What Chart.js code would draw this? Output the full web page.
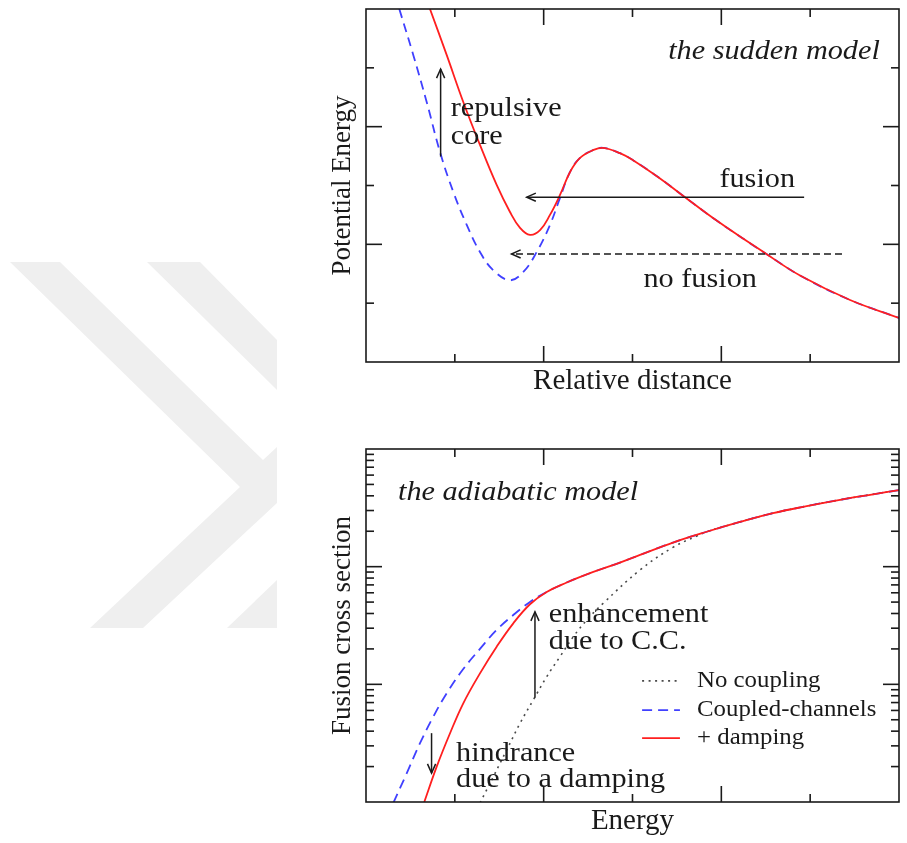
<!DOCTYPE html>
<html>
<head>
<meta charset="utf-8">
<script src="https://cdn.jsdelivr.net/npm/chart.js@4.4.0/dist/chart.umd.min.js"></script>
<style>
  html, body { margin: 0; padding: 0; background: #fff; }
  body { width: 907px; height: 843px; position: relative; overflow: hidden; }
  #mark { position: absolute; left: 0; top: 0; }
  canvas { position: absolute; left: 0; }
  #top { top: 0; }
  #bottom { top: 420px; }
</style>
</head>
<body>
<svg id="mark" width="907" height="843">
  <g fill="#efefef">
    <polygon points="10,262 60,262 263,460 277,447 277,503 143,628 90,628 240,487"/>
    <polygon points="147,262 200,262 277,340 277,390"/>
    <polygon points="227,628 277,580 277,628"/>
  </g>
</svg>
<canvas id="top" width="907" height="420"></canvas>
<canvas id="bottom" width="907" height="423"></canvas>
<script>
// sudden model: potential with / without repulsive core
const potCoreX = [0.720, 0.908, 1.095, 1.283, 1.471, 1.621, 1.734, 1.846, 1.959, 2.071, 2.184, 2.297, 2.409, 2.555, 2.668, 2.859, 3.006, 3.310, 3.557, 3.951, 4.503, 4.886, 5.449, 6.0];
const potCoreY = [6.0, 5.22, 4.42, 3.69, 3.01, 2.55, 2.28, 2.16, 2.24, 2.50, 2.84, 3.23, 3.47, 3.60, 3.64, 3.55, 3.43, 3.12, 2.84, 2.40, 1.84, 1.47, 1.054, 0.75];
const potBareX = [0.375, 0.532, 0.683, 0.833, 0.983, 1.134, 1.283, 1.433, 1.621, 1.771, 1.922, 2.071, 2.184, 2.297, 2.409, 2.555, 2.668, 2.859, 3.006, 3.310, 3.557, 3.951, 4.503, 4.886, 5.449, 6.0];
const potBareY = [6.0, 5.22, 4.42, 3.57, 2.89, 2.33, 1.87, 1.56, 1.39, 1.53, 1.87, 2.33, 2.79, 3.23, 3.47, 3.60, 3.64, 3.55, 3.43, 3.12, 2.84, 2.40, 1.84, 1.47, 1.054, 0.75];

// adiabatic model: fusion cross sections
const noCoupE = [1.283, 1.433, 1.584, 1.734, 1.883, 2.034, 2.184, 2.334, 2.485, 2.671, 3.085, 3.456, 3.723, 3.835, 4.210, 4.582, 4.961, 5.336, 5.708, 6.0];
const noCoupSigma = [0.0098, 0.0164, 0.0277, 0.0467, 0.0736, 0.116, 0.172, 0.254, 0.352, 0.489, 0.938, 1.46, 1.82, 1.98, 2.40, 2.85, 3.27, 3.70, 4.12, 4.47];
const ccE = [0.307, 0.458, 0.608, 0.758, 0.908, 1.095, 1.283, 1.471, 1.658, 1.846, 2.034, 2.259, 2.559, 2.859, 3.085, 3.456, 3.835, 4.210, 4.582, 4.961, 5.336, 5.708, 6.0];
const ccSigma = [0.0098, 0.0175, 0.0316, 0.0531, 0.0839, 0.135, 0.200, 0.290, 0.388, 0.501, 0.610, 0.733, 0.902, 1.084, 1.259, 1.603, 1.98, 2.40, 2.85, 3.27, 3.70, 4.12, 4.47];
const dampE = [0.656, 0.796, 0.946, 1.095, 1.283, 1.471, 1.658, 1.846, 2.034, 2.259, 2.559, 2.859, 3.085, 3.456, 3.835, 4.210, 4.582, 4.961, 5.336, 5.708, 6.0];
const dampSigma = [0.0100, 0.0200, 0.0384, 0.0690, 0.124, 0.209, 0.330, 0.479, 0.610, 0.733, 0.902, 1.084, 1.259, 1.603, 1.98, 2.40, 2.85, 3.27, 3.70, 4.12, 4.47];

// tick marks (no labels in the figure)
const linTicks = [1, 2, 3, 4, 5];
const linMajor = [2, 4];
const logMajor = [0.1, 1];
const logDecades = [0.01, 0.1, 1];

const FONT = 'Liberation Serif';
const INK = '#1a1a1a';

const toPoints = (xs, ys) => xs.map((x, i) => ({ x: x, y: ys[i] }));

const logTicks = [];
logDecades.forEach(d => {
  for (let m = 1; m <= 9; m++) {
    if (d * m > logDecades[0]) logTicks.push(d * m);
  }
});

const framePlugin = {
  id: 'frame',
  afterDatasetsDraw(chart, args, opts) {
    const { ctx, chartArea: { left, right, top, bottom }, scales: { x, y } } = chart;
    ctx.save();
    ctx.strokeStyle = INK;
    ctx.lineWidth = 1.6;
    const seg = (x1, y1, x2, y2) => {
      ctx.beginPath(); ctx.moveTo(x1, y1); ctx.lineTo(x2, y2); ctx.stroke();
    };
    opts.xTicks.forEach(v => {
      const px = x.getPixelForValue(v);
      const len = opts.xMajor.includes(v) ? 16 : 8;
      seg(px, bottom, px, bottom - len);
      seg(px, top, px, top + len);
    });
    opts.yTicks.forEach(v => {
      const py = y.getPixelForValue(v);
      const len = opts.yMajor.some(m => Math.abs(m - v) < 1e-9) ? 16 : 8;
      seg(left, py, left + len, py);
      seg(right, py, right - len, py);
    });
    ctx.strokeRect(left, top, right - left, bottom - top);
    ctx.restore();
  }
};

// text slightly widened, like the original figure
const wideText = (ctx, text, x, y, sx) => {
  ctx.save();
  ctx.translate(x, y);
  ctx.scale(sx, 1);
  ctx.fillText(text, 0, 0);
  ctx.restore();
};

// arrows, texts and legend placed as fractions of the chart area
const notesPlugin = {
  id: 'notes',
  afterDatasetsDraw(chart, args, opts) {
    const { ctx, chartArea: { left, top, width, height } } = chart;
    const px = f => left + f * width;
    const py = f => top + f * height;
    ctx.save();
    ctx.strokeStyle = INK;
    ctx.fillStyle = INK;
    (opts.arrows || []).forEach(a => {
      const x1 = px(a.from[0]), y1 = py(a.from[1]);
      const x2 = px(a.to[0]), y2 = py(a.to[1]);
      ctx.lineWidth = 1.5;
      ctx.setLineDash(a.dash || []);
      ctx.beginPath(); ctx.moveTo(x1, y1); ctx.lineTo(x2, y2); ctx.stroke();
      ctx.setLineDash([]);
      const ang = Math.atan2(y2 - y1, x2 - x1);
      ctx.beginPath();
      ctx.moveTo(x2 - 10 * Math.cos(ang - 0.42), y2 - 10 * Math.sin(ang - 0.42));
      ctx.lineTo(x2, y2);
      ctx.lineTo(x2 - 10 * Math.cos(ang + 0.42), y2 - 10 * Math.sin(ang + 0.42));
      ctx.stroke();
    });
    ctx.textBaseline = 'middle';
    (opts.texts || []).forEach(t => {
      ctx.font = (t.italic ? 'italic ' : '') + t.size + 'px "' + FONT + '"';
      ctx.textAlign = t.align || 'left';
      wideText(ctx, t.text, px(t.at[0]), py(t.at[1]), 1.08);
    });
    if (opts.legend) {
      const lg = opts.legend;
      ctx.font = lg.size + 'px "' + FONT + '"';
      ctx.textAlign = 'left';
      lg.rows.forEach((idx, r) => {
        const ds = chart.data.datasets[idx];
        const yy = py(lg.y[r]);
        ctx.strokeStyle = ds.borderColor;
        ctx.lineWidth = ds.borderWidth;
        ctx.setLineDash(ds.borderDash || []);
        ctx.beginPath(); ctx.moveTo(px(lg.x0), yy); ctx.lineTo(px(lg.x1), yy); ctx.stroke();
        ctx.setLineDash([]);
        ctx.fillStyle = INK;
        wideText(ctx, ds.label, px(lg.tx), yy, 1.08);
      });
    }
    ctx.restore();
  }
};

const axisTitle = (text, size) => ({
  display: true, text: text, color: INK, padding: 0,
  font: { family: FONT, size: size }
});

const baseScales = (xTitle, yTitle, yType, yMin, yMax) => ({
  x: {
    type: 'linear', min: 0, max: 6,
    grid: { display: false }, border: { display: false }, ticks: { display: false },
    title: axisTitle(xTitle, 29),
    afterFit: s => { s.height = 37; }
  },
  y: {
    type: yType, min: yMin, max: yMax,
    grid: { display: false }, border: { display: false }, ticks: { display: false },
    title: axisTitle(yTitle, 27),
    afterFit: s => { s.width = 39; }
  }
});

const lineDefaults = { pointRadius: 0, tension: 0.4, fill: false };

new Chart(document.getElementById('top'), {
  type: 'line',
  data: {
    datasets: [
      { ...lineDefaults, label: 'with repulsive core', data: toPoints(potCoreX, potCoreY), borderColor: '#ff1f1f', borderWidth: 1.8 },
      { ...lineDefaults, label: 'without core', data: toPoints(potBareX, potBareY), borderColor: '#4040ff', borderWidth: 1.8, borderDash: [9, 6] }
    ]
  },
  options: {
    responsive: false,
    animation: false,
    events: [],
    layout: { padding: { left: 327, right: 8, top: 9, bottom: 21 } },
    scales: baseScales('Relative distance', 'Potential Energy', 'linear', 0, 6),
    plugins: {
      legend: { display: false },
      tooltip: { enabled: false },
      frame: { xTicks: linTicks, xMajor: linMajor, yTicks: linTicks, yMajor: linMajor },
      notes: {
        arrows: [
          { from: [0.140, 0.418], to: [0.140, 0.170] },
          { from: [0.822, 0.533], to: [0.3015, 0.533] },
          { from: [0.893, 0.694], to: [0.273, 0.694], dash: [7, 4] }
        ],
        texts: [
          { text: 'the sudden model', at: [0.964, 0.122], align: 'right', italic: true, size: 28 },
          { text: 'repulsive', at: [0.159, 0.282], size: 28 },
          { text: 'core', at: [0.159, 0.362], size: 28 },
          { text: 'fusion', at: [0.734, 0.484], align: 'center', size: 28 },
          { text: 'no fusion', at: [0.627, 0.767], align: 'center', size: 28 }
        ]
      }
    }
  },
  plugins: [framePlugin, notesPlugin]
});

new Chart(document.getElementById('bottom'), {
  type: 'line',
  data: {
    datasets: [
      { ...lineDefaults, label: '+ damping', data: toPoints(dampE, dampSigma), borderColor: '#ff1f1f', borderWidth: 1.8 },
      { ...lineDefaults, label: 'Coupled-channels', data: toPoints(ccE, ccSigma), borderColor: '#4040ff', borderWidth: 1.8, borderDash: [10, 6] },
      { ...lineDefaults, label: 'No coupling', data: toPoints(noCoupE, noCoupSigma), borderColor: '#4a4a4a', borderWidth: 1.6, borderDash: [2, 4.5] }
    ]
  },
  options: {
    responsive: false,
    animation: false,
    events: [],
    layout: { padding: { left: 327, right: 8, top: 29, bottom: 4 } },
    scales: baseScales('Energy', 'Fusion cross section', 'logarithmic', 0.01, 10),
    plugins: {
      legend: { display: false },
      tooltip: { enabled: false },
      frame: { xTicks: linTicks, xMajor: linMajor, yTicks: logTicks, yMajor: logMajor },
      notes: {
        arrows: [
          { from: [0.317, 0.705], to: [0.317, 0.461] },
          { from: [0.123, 0.805], to: [0.123, 0.918] }
        ],
        texts: [
          { text: 'the adiabatic model', at: [0.060, 0.125], italic: true, size: 28 },
          { text: 'enhancement', at: [0.343, 0.470], size: 28 },
          { text: 'due to C.C.', at: [0.343, 0.546], size: 28 },
          { text: 'hindrance', at: [0.169, 0.862], size: 28 },
          { text: 'due to a damping', at: [0.169, 0.937], size: 28 }
        ],
        legend: { rows: [2, 1, 0], x0: 0.518, x1: 0.589, tx: 0.621, y: [0.657, 0.740, 0.819], size: 23 }
      }
    }
  },
  plugins: [framePlugin, notesPlugin]
});
</script>
</body>
</html>
